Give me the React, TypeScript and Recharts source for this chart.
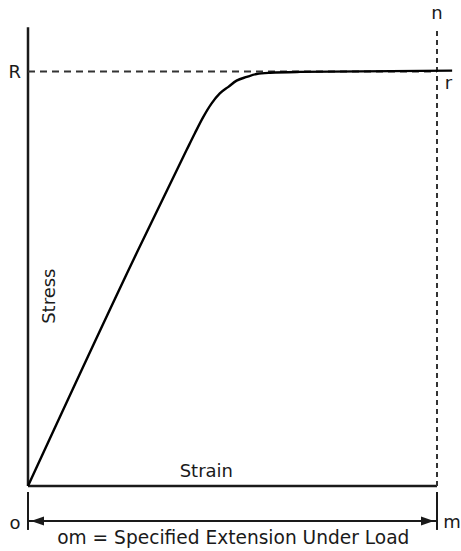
import { ComposedChart, Line, Scatter, XAxis, YAxis, ReferenceLine, ReferenceDot } from "recharts";

// stress-strain curve (strain 100 = m, stress 100 = R)
const strain = [0, 27.1, 38.8, 40.8, 42.9, 44.9, 46.9, 49.0, 51.0, 53.5, 55.9, 59.2, 66.5, 103.7];
const stress = [0, 57.3, 81.1, 85.1, 89.1, 92.3, 94.7, 96.3, 97.8, 98.7, 99.4, 99.7, 99.9, 100.2];

const yieldStress = 100;
const specifiedStrain = 100;
const axisTop = 110.7;
const arrowLevel = -8.44;
const tickTop = -1.45;
const tickBottom = -10.6;

const curveData = strain.map((x, i) => ({ x, y: stress[i] }));
const arrowData = [
  { x: 0, y: arrowLevel, dir: -1 },
  { x: specifiedStrain, y: arrowLevel, dir: 1 },
];

const ink = "#1a1a1a";
const font = "DejaVu Sans";

const ArrowHead = (props: any) => {
  const { cx, cy, payload } = props;
  const d = payload.dir;
  const tip = cx - d * 3;
  const back = tip - d * 13;
  return <polygon points={`${tip},${cy} ${back},${cy - 4.5} ${back},${cy + 4.5}`} fill={ink} />;
};

const txt = (value: string, extra: any = {}) => ({
  value,
  position: "center" as const,
  fill: ink,
  fontSize: 18,
  fontFamily: font,
  ...extra,
});

export default function App() {
  return (
    <div style={{ position: "absolute", left: 0, top: 0, background: "#fff" }}>
      <ComposedChart
        width={461}
        height={551}
        margin={{ top: 0, right: 0, bottom: 0, left: 0 }}
        style={{ fontFamily: font }}
      >
        <XAxis type="number" dataKey="x" domain={[-6.846, 105.868]} allowDataOverflow hide />
        <YAxis type="number" dataKey="y" domain={[-15.68, 117.25]} allowDataOverflow hide />

        {/* axes */}
        <ReferenceLine segment={[{ x: 0, y: 0 }, { x: 0, y: axisTop }]} stroke={ink} strokeWidth={2.5} />
        <ReferenceLine segment={[{ x: 0, y: 0 }, { x: specifiedStrain, y: 0 }]} stroke={ink} strokeWidth={2.5} />

        {/* R level and n-m line */}
        <ReferenceLine
          segment={[{ x: 0, y: yieldStress }, { x: specifiedStrain, y: yieldStress }]}
          stroke="#333"
          strokeWidth={2}
          strokeDasharray="7 5"
          label={{ value: "R", position: "left", offset: 7, fill: ink, fontSize: 18, fontFamily: font }}
        />
        <ReferenceLine
          segment={[{ x: specifiedStrain, y: 0 }, { x: specifiedStrain, y: axisTop }]}
          stroke="#333"
          strokeWidth={2}
          strokeDasharray="5 4"
          label={{ value: "n", position: "top", offset: 8, fill: ink, fontSize: 18, fontFamily: font }}
        />

        {/* om dimension */}
        <ReferenceLine segment={[{ x: 0, y: tickTop }, { x: 0, y: tickBottom }]} stroke={ink} strokeWidth={2} />
        <ReferenceLine
          segment={[{ x: specifiedStrain, y: tickTop }, { x: specifiedStrain, y: tickBottom }]}
          stroke={ink}
          strokeWidth={2}
        />
        <ReferenceLine
          segment={[{ x: 0, y: arrowLevel }, { x: specifiedStrain, y: arrowLevel }]}
          stroke={ink}
          strokeWidth={2}
        />
        <Scatter data={arrowData} shape={ArrowHead} isAnimationActive={false} />

        <Line
          data={curveData}
          dataKey="y"
          type="monotoneX"
          stroke="#000"
          strokeWidth={2.4}
          dot={false}
          activeDot={false}
          isAnimationActive={false}
        />

        {/* text */}
        <ReferenceDot x={43.6} y={3.7} r={0} fill="none" stroke="none" label={txt("Strain")} />
        <ReferenceDot x={5.1} y={45.8} r={0} fill="none" stroke="none" label={txt("Stress", { angle: -90 })} />
        <ReferenceDot x={102.8} y={97.2} r={0} fill="none" stroke="none" label={txt("r")} />
        <ReferenceDot x={-3.2} y={-8.9} r={0} fill="none" stroke="none" label={txt("o")} />
        <ReferenceDot x={103.7} y={-8.7} r={0} fill="none" stroke="none" label={txt("m")} />
        <ReferenceDot
          x={50.2}
          y={-12.5}
          r={0}
          fill="none"
          stroke="none"
          label={txt("om = Specified Extension Under Load", { fontSize: 18.6 })}
        />
      </ComposedChart>
    </div>
  );
}
